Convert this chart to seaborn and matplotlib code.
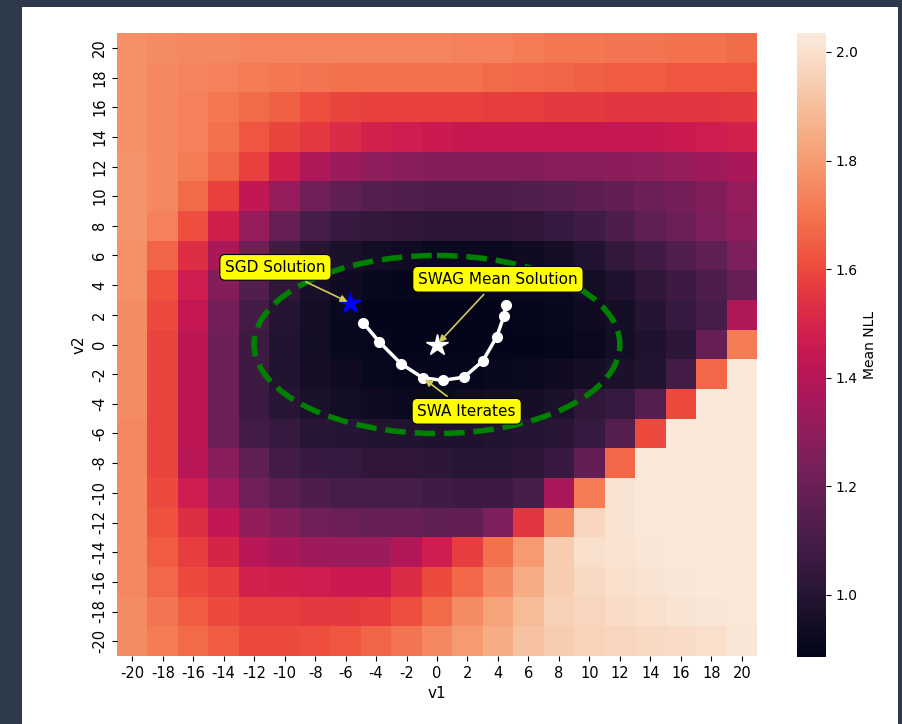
import numpy as np
import pandas as pd
import matplotlib
matplotlib.use("Agg")
import matplotlib.pyplot as plt
import seaborn as sns
from matplotlib.patches import Ellipse, Rectangle

# ---------------- data ----------------
v1_vals = list(range(-20, 21, 2))
v2_vals = list(range(20, -21, -2))

nll_r00 = [1.77,1.76,1.75,1.75,1.74,1.74,1.74,1.74,1.74,1.74,1.74,1.73,1.73,1.72,1.71,1.71,1.70,1.70,1.69,1.69,1.68]
nll_r01 = [1.77,1.75,1.74,1.73,1.72,1.71,1.70,1.69,1.69,1.69,1.69,1.69,1.68,1.67,1.66,1.65,1.64,1.64,1.63,1.63,1.63]
nll_r02 = [1.77,1.75,1.73,1.71,1.68,1.65,1.61,1.59,1.58,1.58,1.58,1.58,1.57,1.57,1.56,1.56,1.55,1.55,1.55,1.55,1.56]
nll_r03 = [1.77,1.75,1.73,1.69,1.63,1.59,1.56,1.52,1.49,1.47,1.46,1.45,1.45,1.44,1.44,1.44,1.44,1.45,1.46,1.47,1.49]
nll_r04 = [1.78,1.75,1.72,1.66,1.58,1.48,1.38,1.33,1.30,1.28,1.27,1.27,1.27,1.27,1.28,1.28,1.29,1.30,1.32,1.34,1.37]
nll_r05 = [1.78,1.75,1.68,1.58,1.43,1.32,1.22,1.17,1.14,1.13,1.12,1.12,1.12,1.13,1.14,1.16,1.18,1.21,1.23,1.26,1.32]
nll_r06 = [1.78,1.73,1.61,1.48,1.32,1.19,1.10,1.06,1.04,1.03,1.02,1.02,1.02,1.03,1.05,1.08,1.12,1.17,1.20,1.25,1.30]
nll_r07 = [1.77,1.66,1.53,1.37,1.21,1.08,1.01,0.97,0.94,0.93,0.92,0.92,0.92,0.93,0.95,0.99,1.04,1.08,1.13,1.17,1.25]
nll_r08 = [1.77,1.62,1.47,1.27,1.13,1.03,0.96,0.93,0.91,0.90,0.90,0.90,0.90,0.91,0.92,0.94,0.98,1.03,1.07,1.12,1.19]
nll_r09 = [1.76,1.60,1.44,1.23,1.09,1.00,0.95,0.91,0.89,0.89,0.89,0.89,0.89,0.90,0.91,0.93,0.95,1.00,1.05,1.10,1.38]
nll_r10 = [1.76,1.59,1.42,1.21,1.07,0.99,0.94,0.91,0.90,0.89,0.89,0.89,0.89,0.89,0.90,0.92,0.94,0.98,1.02,1.19,1.72]
nll_r11 = [1.76,1.59,1.42,1.21,1.07,0.99,0.95,0.93,0.91,0.90,0.90,0.90,0.91,0.92,0.93,0.95,0.97,0.99,1.09,1.67,2.03]
nll_r12 = [1.76,1.59,1.42,1.21,1.07,1.01,0.97,0.94,0.93,0.92,0.92,0.93,0.94,0.95,0.97,1.03,1.05,1.14,1.60,2.03,2.03]
nll_r13 = [1.75,1.59,1.42,1.21,1.09,1.05,1.01,1.00,0.99,0.99,0.98,0.98,0.99,1.00,1.01,1.05,1.14,1.60,2.03,2.03,2.03]
nll_r14 = [1.75,1.59,1.41,1.28,1.17,1.09,1.06,1.05,1.03,1.03,1.02,1.01,1.01,1.02,1.06,1.18,1.67,2.03,2.03,2.03,2.03]
nll_r15 = [1.75,1.60,1.47,1.35,1.22,1.16,1.12,1.10,1.10,1.10,1.08,1.07,1.07,1.10,1.37,1.72,2.01,2.03,2.03,2.03,2.03]
nll_r16 = [1.75,1.62,1.53,1.43,1.31,1.27,1.22,1.20,1.19,1.19,1.17,1.18,1.25,1.55,1.75,1.97,2.01,2.03,2.03,2.03,2.03]
nll_r17 = [1.75,1.64,1.57,1.50,1.41,1.37,1.34,1.33,1.33,1.39,1.47,1.57,1.69,1.80,1.94,2.00,2.01,2.02,2.03,2.03,2.03]
nll_r18 = [1.75,1.67,1.60,1.57,1.49,1.48,1.47,1.46,1.46,1.52,1.60,1.67,1.75,1.85,1.94,1.98,2.00,2.01,2.02,2.03,2.03]
nll_r19 = [1.76,1.70,1.64,1.60,1.57,1.57,1.56,1.56,1.57,1.61,1.68,1.76,1.82,1.89,1.95,1.97,1.99,2.00,2.01,2.02,2.03]
nll_r20 = [1.76,1.72,1.68,1.64,1.60,1.60,1.61,1.63,1.66,1.70,1.75,1.80,1.85,1.91,1.94,1.96,1.97,1.98,1.99,2.00,2.02]

nll_rows = [nll_r00, nll_r01, nll_r02, nll_r03, nll_r04, nll_r05, nll_r06,
            nll_r07, nll_r08, nll_r09, nll_r10, nll_r11, nll_r12, nll_r13,
            nll_r14, nll_r15, nll_r16, nll_r17, nll_r18, nll_r19, nll_r20]

color_min = 0.885
color_max = 2.035

sgd_solution = (-5.7, 2.8)
swag_mean = (0.0, 0.0)
swa_v1 = [-4.84, -3.79, -2.36, -0.94, 0.37, 1.77, 3.00, 3.92, 4.40, 4.51]
swa_v2 = [1.46, 0.18, -1.30, -2.24, -2.42, -2.20, -1.12, 0.52, 1.95, 2.69]

ellipse_center = (0.0, 0.0)
ellipse_width_v1 = 24.0
ellipse_height_v2 = 12.0

label_sgd = ("SGD Solution", (-10.6, 5.2))
label_swag = ("SWAG Mean Solution", (4.0, 4.4))
label_swa = ("SWA Iterates", (1.95, -4.5))
swa_arrow_index = 3


def to_col(v1):
    step = v1_vals[1] - v1_vals[0]
    return (v1 - v1_vals[0]) / step + 0.5


def to_row(v2):
    step = v2_vals[0] - v2_vals[1]
    return (v2_vals[0] - v2) / step + 0.5


# ---------------- figure ----------------
W, H = 902, 724
fig = plt.figure(figsize=(W / 100, H / 100), dpi=100)
fig.patch.set_facecolor("#2c3a4b")
fig.add_artist(Rectangle((22 / W, 0), (898 - 22) / W, (H - 7) / H,
                         transform=fig.transFigure, facecolor="white",
                         edgecolor="none", zorder=0))

ax = fig.add_axes([117 / W, 1 - 656 / H, 640 / W, 623 / H])
cax = fig.add_axes([797 / W, 1 - 657 / H, 29 / W, 624 / H])

df = pd.DataFrame(nll_rows, index=v2_vals, columns=v1_vals)
sns.heatmap(df, ax=ax, cbar_ax=cax, cmap="rocket", vmin=color_min, vmax=color_max,
            xticklabels=True, yticklabels=True, cbar_kws={"label": "Mean NLL"})

ax.set_xlabel("v1", fontsize=11)
ax.set_ylabel("v2", fontsize=11)
ax.set_xticklabels([str(v) for v in v1_vals], rotation=0, fontsize=10.5)
ax.set_yticklabels([str(v) for v in v2_vals], rotation=90, va="center", fontsize=10.5)

cax.tick_params(labelsize=10)
cax.yaxis.label.set_size(10)

# ellipse
ell = Ellipse((to_col(ellipse_center[0]), to_row(ellipse_center[1])),
              width=ellipse_width_v1 / (v1_vals[1] - v1_vals[0]),
              height=ellipse_height_v2 / (v2_vals[0] - v2_vals[1]),
              fill=False, edgecolor="green", linestyle="--", linewidth=4, zorder=3)
ax.add_patch(ell)

# SWA iterates
cols = [to_col(v) for v in swa_v1]
rows = [to_row(v) for v in swa_v2]
ax.plot(cols, rows, "-o", color="white", linewidth=2.5, markersize=7, zorder=4)

# stars
ax.plot([to_col(sgd_solution[0])], [to_row(sgd_solution[1])], marker="*",
        color="blue", markersize=16, linestyle="none", zorder=5)
ax.plot([to_col(swag_mean[0])], [to_row(swag_mean[1])], marker="*",
        color="white", markersize=16, linestyle="none", zorder=5)

bbox = dict(boxstyle="round,pad=0.35", fc="yellow", ec="black", lw=0.8)
arrow = dict(arrowstyle="-|>", color="#cfcb5c", lw=1.2, mutation_scale=10)

ax.annotate(label_sgd[0], xy=(to_col(sgd_solution[0]), to_row(sgd_solution[1])),
            xytext=(to_col(label_sgd[1][0]), to_row(label_sgd[1][1])),
            ha="center", va="center", fontsize=11, bbox=bbox, arrowprops=arrow, zorder=6)
ax.annotate(label_swag[0], xy=(to_col(swag_mean[0]), to_row(swag_mean[1])),
            xytext=(to_col(label_swag[1][0]), to_row(label_swag[1][1])),
            ha="center", va="center", fontsize=11, bbox=bbox, arrowprops=arrow, zorder=6)
ax.annotate(label_swa[0], xy=(cols[swa_arrow_index], rows[swa_arrow_index]),
            xytext=(to_col(label_swa[1][0]), to_row(label_swa[1][1])),
            ha="center", va="center", fontsize=11, bbox=bbox, arrowprops=arrow, zorder=6)

fig.savefig("out.png", dpi=100, facecolor=fig.get_facecolor())
